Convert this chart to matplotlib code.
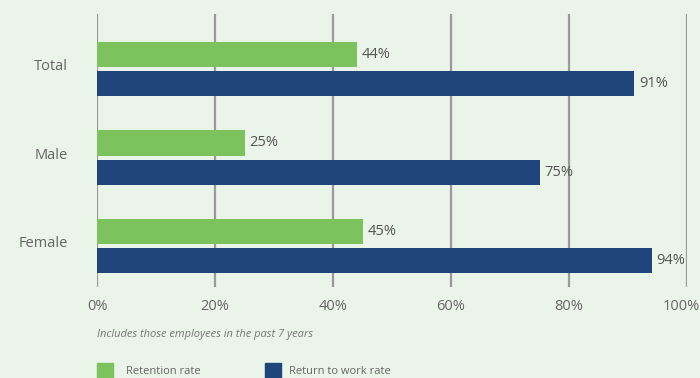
import matplotlib
matplotlib.use("Agg")
import matplotlib.pyplot as plt
from matplotlib.patches import Rectangle
import matplotlib.transforms as mtransforms

categories = ["Total", "Male", "Female"]
retention = [44, 25, 45]
return_work = [91, 75, 94]
xticks = [0, 20, 40, 60, 80, 100]
xtick_labels = ["0%", "20%", "40%", "60%", "80%", "100%"]
series_names = ["Retention rate", "Return to work rate"]
footnote = "Includes those employees in the past 7 years"

bg = "#EAF4E8"
green = "#7CC35D"
blue = "#1F457A"
txt = "#666666"

plt.rcParams['font.family'] = ['Open Sans', 'DejaVu Sans']

fig = plt.figure(figsize=(7, 3.78), dpi=100, facecolor=bg)
ax = fig.add_axes([97/700, 1-287/378, 590/700, 273/378])
ax.set_facecolor(bg)

y = list(range(len(categories)))
h = 0.285
off = 0.165
ax.barh([v - off for v in y], retention, height=h, color=green, zorder=3)
ax.barh([v + off for v in y], return_work, height=h, color=blue, zorder=3)

for i, (r, w) in enumerate(zip(retention, return_work)):
    ax.text(r + 0.85, i - off, f"{r}%", va="center", ha="left", fontsize=10.5, color="#555555", zorder=4)
    ax.text(w + 0.85, i + off, f"{w}%", va="center", ha="left", fontsize=10.5, color="#555555", zorder=4)

ax.set_xlim(0, 100)
ax.set_ylim(2.46, -0.62)
ax.set_xticks(xticks)
ax.set_xticklabels(xtick_labels)
ax.set_yticks([v - 0.05 for v in y])
ax.set_yticklabels(categories)
ax.grid(axis="x", color="#9a9a9a", linewidth=1.6, zorder=0)
ax.tick_params(axis="both", length=0, labelsize=10.5, labelcolor=txt)
ax.tick_params(axis="x", pad=9)
ax.tick_params(axis="y", pad=21)
for s in ax.spines.values():
    s.set_visible(False)

last = ax.get_xticklabels()[-1]
last.set_transform(last.get_transform() + mtransforms.ScaledTranslation(-6/100, 0, fig.dpi_scale_trans))

fig.text(97/700, 1-335/378, footnote, fontsize=8, style="italic", color="#777777", va="center", ha="left")

# legend
fig.patches.append(Rectangle((97/700, 0), 16/700, 15/378, transform=fig.transFigure, color=green, figure=fig))
fig.text(126/700, 1-371/378, series_names[0], fontsize=8, color=txt, va="center", ha="left")
fig.patches.append(Rectangle((265/700, 0), 16/700, 15/378, transform=fig.transFigure, color=blue, figure=fig))
fig.text(289/700, 1-371/378, series_names[1], fontsize=8, color=txt, va="center", ha="left")

fig.savefig("out.png", dpi=100, facecolor=bg)
